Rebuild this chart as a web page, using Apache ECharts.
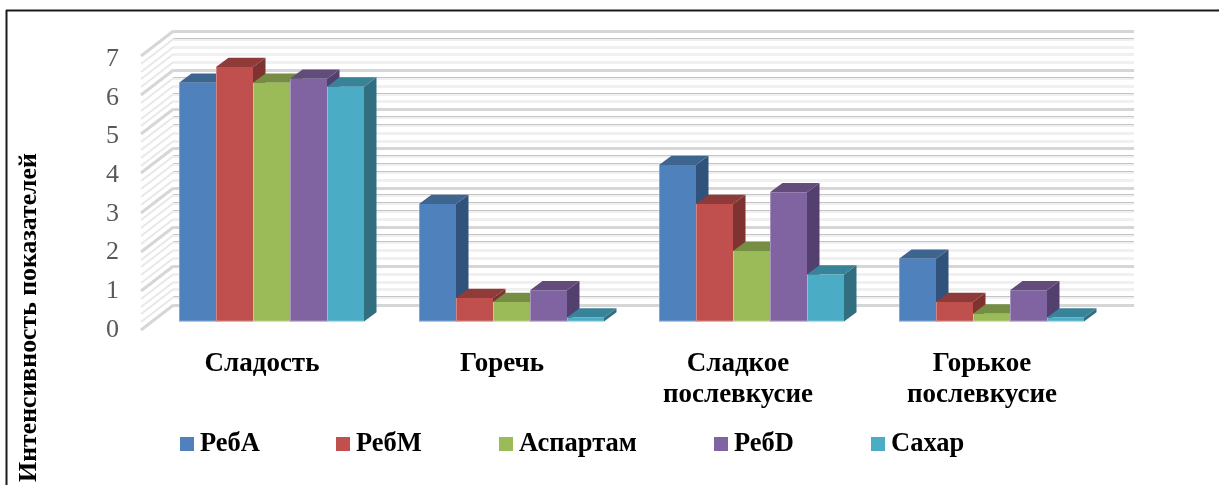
<!DOCTYPE html>
<html>
<head>
<meta charset="utf-8">
<style>html,body{margin:0;padding:0;background:#fff}#chart{width:1219px;height:485px}</style>
<script src="https://cdn.jsdelivr.net/npm/echarts@6/dist/echarts.min.js"></script>
</head>
<body>
<div id="chart"></div>
<script>
// Категории и значения показателей
const categories = ['Сладость', 'Горечь', 'Сладкое\nпослевкусие', 'Горькое\nпослевкусие'];
const rebA = [6.1, 3.0, 4.0, 1.6];
const rebM = [6.5, 0.6, 3.0, 0.5];
const aspartame = [6.1, 0.5, 1.8, 0.2];
const rebD = [6.2, 0.8, 3.3, 0.8];
const sugar = [6.0, 0.1, 1.2, 0.1];
const seriesNames = ['РебА', 'РебМ', 'Аспартам', 'РебD', 'Сахар'];
const seriesValues = [rebA, rebM, aspartame, rebD, sugar];

// Цвета граней столбиков: передняя, верхняя, боковая
const frontColors = ['#4f81bd', '#c0504d', '#9bbb59', '#8064a2', '#4bacc6'];
const topColors = ['#3e6490', '#8f3b39', '#768e43', '#624c7c', '#398399'];
const sideColors = ['#31527a', '#7e3330', '#657b3a', '#53406e', '#316f80'];

// Отметки стенок диаграммы: шаг 0,2 и более заметные линии
const wallLevels = [0, 0.2, 0.4, 0.6, 0.8, 1, 1.2, 1.4, 1.6, 1.8, 2, 2.2, 2.4, 2.6, 2.8, 3, 3.2, 3.4,
  3.6, 3.8, 4, 4.2, 4.4, 4.6, 4.8, 5, 5.2, 5.4, 5.6, 5.8, 6, 6.2, 6.4, 6.6, 6.8, 7];
const pronouncedLevels = [0.2, 1.6, 1.8, 2.4, 2.6, 2.8, 3.4, 3.6, 3.8, 4.6, 4.8, 5.4, 5.8, 6.8];

const serifFont = '"Liberation Serif", "Times New Roman", serif';
const BAR_SHARE = 37 / 240;
const BAR_DEPTH = [12.5, 9.3];
const WALL_BACK = [22, -16.5];
const WALL_FRONT = [-10.5, 8.5];

function renderBar(seriesIndex) {
  return function (params, api) {
    const base = api.coord([api.value(0), 0]);
    const top = api.coord([api.value(0), api.value(1)]);
    const w = api.size([1, 0])[0] * BAR_SHARE;
    const x0 = base[0] - w * 2.5 + seriesIndex * w;
    const x1 = x0 + w;
    const [dx, dy] = BAR_DEPTH;
    const poly = (points, fill) => ({
      type: 'polygon', shape: { points: points }, style: { fill: fill }
    });
    return {
      type: 'group',
      children: [
        poly([[x1, top[1]], [x1 + dx, top[1] - dy], [x1 + dx, base[1] - dy], [x1, base[1]]], sideColors[seriesIndex]),
        poly([[x0, top[1]], [x0 + dx, top[1] - dy], [x1 + dx, top[1] - dy], [x1, top[1]]], topColors[seriesIndex]),
        poly([[x0, top[1]], [x1, top[1]], [x1, base[1]], [x0, base[1]]], frontColors[seriesIndex]),
        {
          type: 'polyline',
          shape: { points: [[x0 + 0.5, top[1]], [x0 + 0.5, base[1] - 0.5], [x1, base[1] - 0.5]] },
          style: { fill: 'none', stroke: 'rgba(255,255,255,0.3)', lineWidth: 1 }
        }
      ]
    };
  };
}

function renderWallLevel(params, api) {
  const level = api.value(1);
  const rect = params.coordSys;
  const y = Math.round(api.coord([0, level])[1] + WALL_BACK[1]);
  const xBack = rect.x + WALL_BACK[0];
  const xEnd = rect.x + rect.width + WALL_BACK[0] + 0.5;
  const major = Number.isInteger(level);
  const pronounced = pronouncedLevels.includes(level);
  const band = major ? '#d6d6d6' : '#f0f0f0';
  const slant = major ? '#d6d6d6' : '#e8e8e8';
  const segment = (x1, y1, x2, y2, stroke, width) => ({
    type: 'line', shape: { x1, y1, x2, y2 }, style: { stroke: stroke, lineWidth: width }
  });
  const children = [
    segment(xBack, y + 0.5, xEnd, y + 0.5, band, 3),
    segment(xBack, y, xBack + WALL_FRONT[0] - WALL_BACK[0], y + WALL_FRONT[1] - WALL_BACK[1], slant, major ? 3 : 2)
  ];
  if (pronounced) {
    children.push(segment(xBack, y - 0.5, xEnd, y - 0.5, '#c4c4c4', 1));
  }
  return { type: 'group', children: children };
}

const barSeries = seriesNames.map((name, s) => ({
  name: name,
  type: 'custom',
  xAxisIndex: 0,
  yAxisIndex: 0,
  coordinateSystem: 'cartesian2d',
  clip: false,
  z: 5 + s,
  itemStyle: { color: frontColors[s] },
  renderItem: renderBar(s),
  encode: { x: 0, y: 1 },
  data: seriesValues[s].map((v, i) => [i, v])
}));

const wallSeries = {
  type: 'custom',
  xAxisIndex: 0,
  yAxisIndex: 0,
  clip: false,
  silent: true,
  z: 1,
  renderItem: renderWallLevel,
  encode: { x: 0, y: 1 },
  data: wallLevels.map(level => [0, level])
};

const legendPlacement = [180, 336, 499, 714, 871];

const option = {
  animation: false,
  backgroundColor: '#ffffff',
  grid: [
    // плоскость передних граней столбиков
    { left: 151.5, top: 47.5, width: 960, height: 274 },
    // плоскость подписей осей
    { left: 142, top: 59, width: 960, height: 271 }
  ],
  xAxis: [
    {
      type: 'category', gridIndex: 0, data: categories,
      axisLine: { show: false }, axisTick: { show: false }, axisLabel: { show: false }, splitLine: { show: false }
    },
    {
      type: 'category', gridIndex: 1,
      data: categories.map((c, i) => i === 2
        ? { value: c, textStyle: { padding: [0, 8, 0, 0] } }
        : c),
      axisLine: { show: false }, axisTick: { show: false }, splitLine: { show: false },
      axisLabel: {
        interval: 0, margin: 19, color: '#000', lineHeight: 31,
        fontFamily: serifFont, fontWeight: 'bold', fontSize: 27
      }
    }
  ],
  yAxis: [
    {
      type: 'value', gridIndex: 0, min: 0, max: 7, interval: 1,
      axisLine: { show: false }, axisTick: { show: false }, axisLabel: { show: false }, splitLine: { show: false }
    },
    {
      type: 'value', gridIndex: 1, min: 0, max: 7, interval: 1,
      axisLine: { show: false }, axisTick: { show: false }, splitLine: { show: false },
      axisLabel: { margin: 23, color: '#595959', fontFamily: serifFont, fontSize: 26 }
    }
  ],
  legend: seriesNames.map((name, s) => ({
    data: [name],
    left: legendPlacement[s],
    top: 428,
    padding: 0,
    selectedMode: false,
    icon: 'rect',
    itemWidth: 14,
    itemHeight: 14,
    formatter: '{label|{name}}',
    textStyle: {
      rich: {
        label: {
          color: '#000', fontFamily: serifFont, fontWeight: 'bold', fontSize: 26.5,
          lineHeight: 32, height: 32, verticalAlign: 'bottom', padding: [0, 0, 0, 1]
        }
      }
    }
  })),
  graphic: [
    {
      type: 'text', x: 29, y: 317.5, rotation: Math.PI / 2,
      style: {
        text: 'Интенсивность показателей', fill: '#000', align: 'center', verticalAlign: 'middle',
        font: 'bold 25.8px ' + serifFont
      }
    },
    { type: 'line', shape: { x1: 6, y1: 10.5, x2: 1219, y2: 10.5 }, style: { stroke: '#1a1a1a', lineWidth: 2 } },
    { type: 'line', shape: { x1: 6.5, y1: 10, x2: 6.5, y2: 485 }, style: { stroke: '#1a1a1a', lineWidth: 2 } }
  ],
  series: [wallSeries].concat(barSeries)
};

echarts.init(document.getElementById('chart')).setOption(option);
</script>
</body>
</html>
